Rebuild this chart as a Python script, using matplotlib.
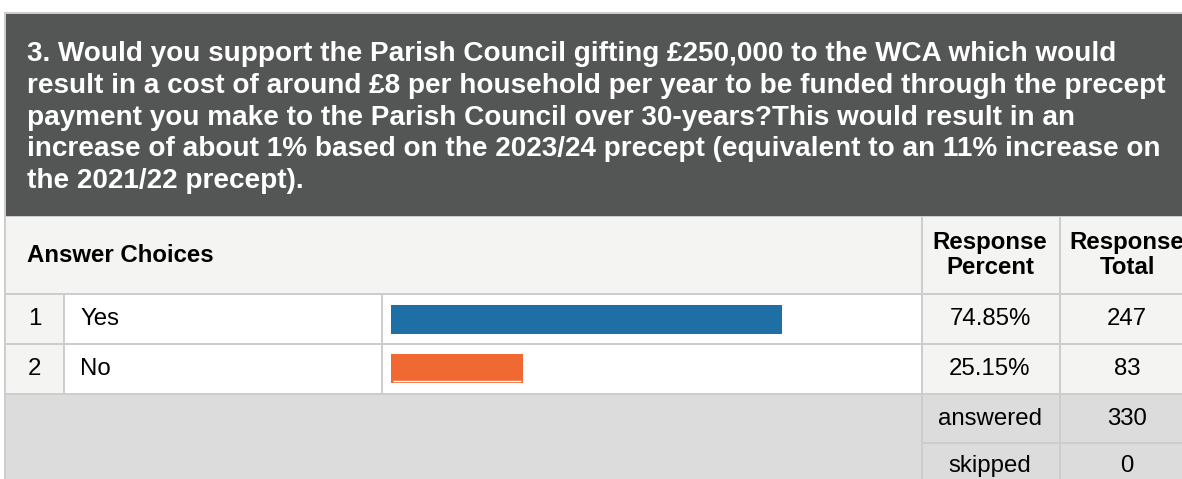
import matplotlib
matplotlib.use('Agg')
import matplotlib.pyplot as plt
from matplotlib.patches import Rectangle

plt.rcParams['font.family'] = ['Liberation Sans', 'DejaVu Sans']

title_lines = [
    "3. Would you support the Parish Council gifting £250,000 to the WCA which would",
    "result in a cost of around £8 per household per year to be funded through the precept",
    "payment you make to the Parish Council over 30-years?This would result in an",
    "increase of about 1% based on the 2023/24 precept (equivalent to an 11% increase on",
    "the 2021/22 precept).",
]
choices = ['Yes', 'No']
percents = [74.85, 25.15]
totals = [247, 83]
answered = 330
skipped = 0
bar_colors = ['#1d6fa5', '#f06933']

W, H = 1182, 479
fig = plt.figure(figsize=(W / 100, H / 100), dpi=100)
ax = fig.add_axes([0, 0, 1, 1])
ax.set_xlim(0, W)
ax.set_ylim(H, 0)
ax.axis('off')

def cell(x0, x1, y0, y1, color):
    ax.add_patch(Rectangle((x0, y0), x1 - x0, y1 - y0, color=color, lw=0))

grid = '#cdcdcd'
light = '#f4f4f2'
foot = '#dcdcdc'

# borders / background
cell(4, W, 12, H, grid)
cell(6, W, 14, 216, '#545655')
cell(6, 921, 217, 293, light)
cell(923, 1059, 217, 293, light)
cell(1061, W, 217, 293, light)

row_y = [(295, 343), (345, 393)]
for (y0, y1) in row_y:
    cell(6, 63, y0, y1, light)
    cell(65, 381, y0, y1, 'white')
    cell(383, 921, y0, y1, 'white')
    cell(923, 1059, y0, y1, light)
    cell(1061, W, y0, y1, light)

cell(6, 921, 395, H, foot)
cell(923, 1059, 395, 442, foot)
cell(1061, W, 395, 442, foot)
cell(923, 1059, 444, H, foot)
cell(1061, W, 444, H, foot)

# title
for i, line in enumerate(title_lines):
    ax.text(27, 60.7 + i * 31.9, line, color='white', fontsize=20.1,
            fontweight='bold', va='baseline', ha='left')

fs = 17.3
# header row
ax.text(27, 256, 'Answer Choices', fontsize=fs, fontweight='bold', va='center')
ax.text(990, 255, 'Response\nPercent', fontsize=fs, fontweight='bold',
        va='center', ha='center', linespacing=1.15)
ax.text(1127, 255, 'Response\nTotal', fontsize=fs, fontweight='bold',
        va='center', ha='center', linespacing=1.15)

for i, (name, pct, tot) in enumerate(zip(choices, percents, totals)):
    yc = (row_y[i][0] + row_y[i][1]) / 2
    ax.text(34.5, yc, str(i + 1), fontsize=fs, va='center', ha='center')
    ax.text(80, yc, name, fontsize=fs, va='center', ha='left')
    ax.text(990, yc, f'{pct:.2f}%', fontsize=fs, va='center', ha='center')
    ax.text(1127, yc, str(tot), fontsize=fs, va='center', ha='center')

ax.text(990, 419, 'answered', fontsize=fs, va='center', ha='center')
ax.text(1127, 419, str(answered), fontsize=fs, va='center', ha='center')
ax.text(990, 466, 'skipped', fontsize=fs, va='center', ha='center')
ax.text(1127, 466, str(skipped), fontsize=fs, va='center', ha='center')

# bars
bx0, bx1 = 391, 914
by0, by1 = 295, 393
bax = fig.add_axes([bx0 / W, 1 - by1 / H, (bx1 - bx0) / W, (by1 - by0) / H])
bax.set_xlim(0, 100)
bax.set_ylim(1.5, -0.5)
bax.barh(range(len(percents)), percents, height=0.61, color=bar_colors)
bax.hlines(1.26, 0.4, percents[1] - 0.3, color='white', lw=1)
bax.axis('off')
bax.patch.set_alpha(0)

fig.savefig('out.png', dpi=100)
